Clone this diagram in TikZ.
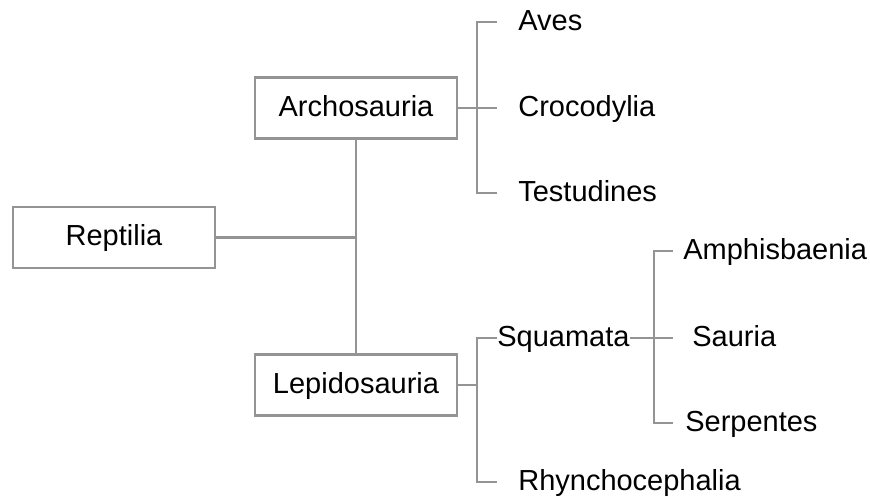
\documentclass[tikz,border=0pt]{standalone}
\usepackage{fontspec}
\setmainfont{Liberation Sans}
\tikzset{
  taxbox/.style={draw=black!42, line width=1.3pt, minimum width=4.04cm, minimum height=1.22cm,
    inner sep=0pt, text height=0.92em, text depth=0pt},
  leaf/.style={anchor=west, inner ysep=0pt, inner xsep=0pt, text height=0.92em, text depth=0pt},
  link/.style={draw=black!42, line width=1.3pt}
}
\begin{document}
\begin{tikzpicture}[x=0.02cm, y=-0.02cm, font=\fontsize{16.5}{20}\selectfont]

  \useasboundingbox (0,0) rectangle (870,497);

  % --- 1. boxes ---
  \node[taxbox] (rept) at (114,237.5) {Reptilia};
  \node[taxbox] (arch) at (356,108) {Archosauria};
  \node[taxbox] (lepi) at (356,385) {Lepidosauria};

  % --- 2. leaves ---
  \node[leaf, inner xsep=0.42cm] (aves) at (497,22) {Aves};
  \node[leaf, inner xsep=0.42cm] (croc) at (497,108) {Crocodylia};
  \node[leaf, inner xsep=0.42cm] (test) at (497,193) {Testudines};
  \node[leaf] (squa) at (497,338) {Squamata};
  \node[leaf, inner xsep=0.42cm] (rhyn) at (497,482) {Rhynchocephalia};
  \node[leaf, inner xsep=0.2cm] (amph) at (673,251) {Amphisbaenia};
  \node[leaf, inner xsep=0.38cm] (saur) at (673,338) {Sauria};
  \node[leaf, inner xsep=0.24cm] (serp) at (673,423) {Serpentes};

  % bracket joints
  \coordinate (ab) at (477,108);
  \coordinate (lb) at (477,385);
  \coordinate (sb) at (654,338);

  % --- 3. connectors ---
  \draw[link] (rept.east) -- (rept.east -| arch.south);
  \draw[link] (arch.south) -- (lepi.north);

  \draw[link] (arch.east) -- (croc.west);
  \draw[link] (aves.west) -| (ab) |- (test.west);

  \draw[link] (lepi.east) -- (lb);
  \draw[link] (squa.west) -| (lb) |- (rhyn.west);

  \draw[link] (squa.east) -- (saur.west);
  \draw[link] (amph.west) -| (sb) |- (serp.west);

\end{tikzpicture}
\end{document}
